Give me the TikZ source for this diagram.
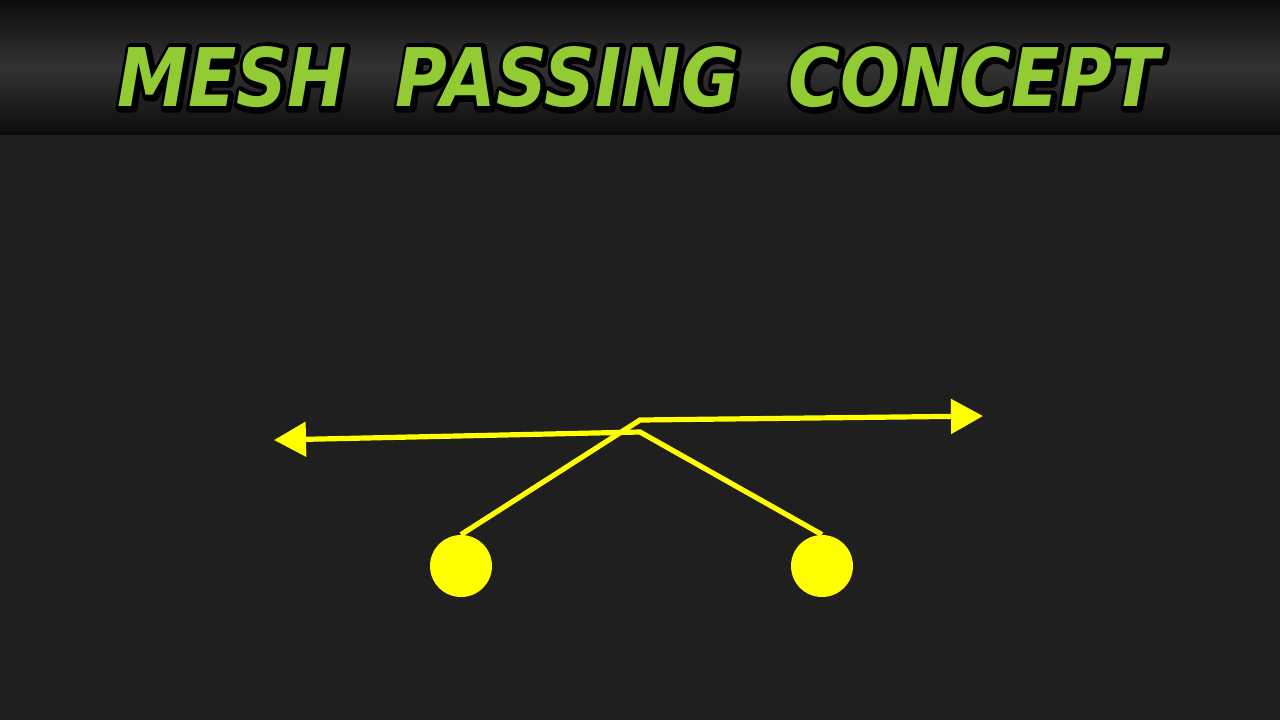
\documentclass[tikz,border=0pt]{standalone}
\usepackage{fontspec}
\usepackage{graphicx}
\setmainfont{DejaVu Sans}
\usetikzlibrary{arrows.meta}
\definecolor{bg}{HTML}{1F1F1F}
\definecolor{route}{HTML}{FFFF00}
\definecolor{titlegreen}{HTML}{93CB34}
\tikzset{
  routeline/.style={draw=route, line width=2.6pt, line join=miter},
  routearrow/.style={routeline, -{Triangle[length=16pt,width=17pt]}},
  player/.style={circle, fill=route, minimum size=31pt, inner sep=0pt},
}
\newcommand{\titlecore}{\resizebox{521pt}{30pt}{\bfseries\itshape MESH\ \ PASSING\ \ CONCEPT}}
\newcommand{\titleoutline}{\special{pdf:literal direct 0 0 0 RG 1 j 1.3 w 2 Tr}\titlecore\special{pdf:literal direct 0 Tr}}
\begin{document}
\begin{tikzpicture}[x=0.5pt,y=-0.5pt]
\useasboundingbox (0,0) rectangle (1280,720);
\fill[bg] (0,0) rectangle (1280,720);
\shade[top color=black!95!white, bottom color=black!95!white, middle color=black!80!white] (0,0) rectangle (1280,134);
\node[text=black, inner sep=0pt] (titleshadow) at (640,78) {\titleoutline};
\node[text=titlegreen, inner sep=0pt] (title) at (639,77) {\titlecore};
% players
\node[player] (p1) at (461,566) {};
\node[player] (p2) at (822,566) {};
\coordinate (m1) at (640,420);
\coordinate (m2) at (640,432);
\coordinate (e1) at (983,416);
\coordinate (e2) at (274,440);
\draw[routearrow] (p1.north) -- (m1) -- (e1);
\draw[routearrow] (p2.north) -- (m2) -- (e2);
\end{tikzpicture}
\end{document}
